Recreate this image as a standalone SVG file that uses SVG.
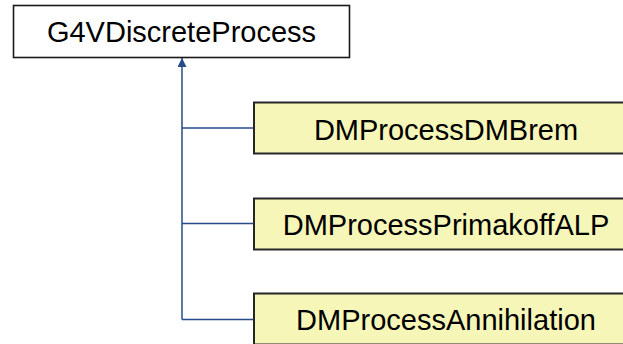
<svg xmlns="http://www.w3.org/2000/svg" width="623" height="344" viewBox="0 0 623 344">
  <style>
    .base { fill: #ffffff; stroke: #1a1a1a; stroke-width: 1.6; }
    .derived { fill: #f6f6b9; stroke: #262626; stroke-width: 2; }
    .label { font-family: "Liberation Sans", Arial, sans-serif; font-size: 29px; fill: #000000; text-anchor: middle; }
    .link { fill: none; stroke: #274a8a; stroke-width: 1.5; }
  </style>
  <defs>
    <marker id="inherit" markerWidth="10" markerHeight="10" refX="9" refY="4.5" orient="auto" markerUnits="userSpaceOnUse">
      <path d="M0,0 L9,4.5 L0,9 Z" fill="#274a8a"/>
    </marker>
  </defs>

  <g id="connectors">
    <path class="link" d="M182,319.5 V58" marker-end="url(#inherit)"/>
    <path class="link" d="M182,128 H254"/>
    <path class="link" d="M182,223.5 H254"/>
    <path class="link" d="M182,319.5 H254"/>
  </g>

  <g id="G4VDiscreteProcess">
    <rect class="base" x="13.5" y="5.5" width="336" height="52"/>
    <text class="label" x="181.5" y="41.5">G4VDiscreteProcess</text>
  </g>

  <g id="DMProcessDMBrem">
    <rect class="derived" x="254" y="102.5" width="384" height="51"/>
    <text class="label" x="446" y="139.5">DMProcessDMBrem</text>
  </g>

  <g id="DMProcessPrimakoffALP">
    <rect class="derived" x="254" y="198.5" width="384" height="51"/>
    <text class="label" x="446" y="234.5">DMProcessPrimakoffALP</text>
  </g>

  <g id="DMProcessAnnihilation">
    <rect class="derived" x="254" y="293.5" width="384" height="51"/>
    <text class="label" x="446" y="330">DMProcessAnnihilation</text>
  </g>
</svg>
